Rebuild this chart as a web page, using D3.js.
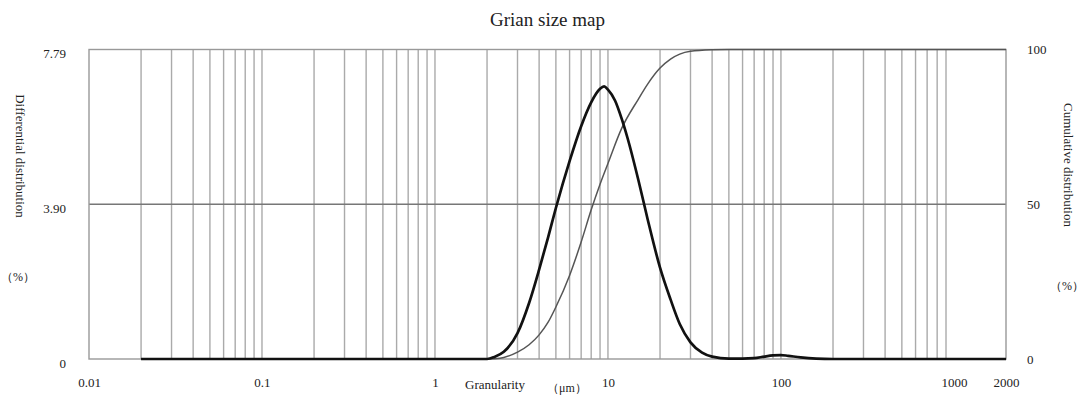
<!DOCTYPE html>
<html>
<head>
<meta charset="utf-8">
<script src="https://cdn.jsdelivr.net/npm/d3@7"></script>
<style>
  body { margin: 0; background: #fff; }
  text { font-family: "Liberation Serif", "DejaVu Serif", serif; fill: #222; }
</style>
</head>
<body>
<script>
// particle size (um) and readings
const sizes = [0.02, 0.5, 1, 2, 2.2, 2.5, 3, 3.5, 4, 4.5, 5, 6, 7, 8, 9, 9.5, 10, 11, 12, 13, 15, 17, 20, 23, 26, 30, 35, 40, 50, 60, 70, 80, 90, 100, 110, 130, 160, 200, 500, 2000]
const differential = [0, 0, 0, 0, 0.05, 0.18, 0.65, 1.41, 2.25, 3.05, 3.8, 4.98, 5.86, 6.46, 6.8, 6.86, 6.78, 6.5, 6.05, 5.55, 4.5, 3.5, 2.3, 1.5, 0.88, 0.42, 0.16, 0.06, 0.01, 0.01, 0.02, 0.06, 0.09, 0.1, 0.08, 0.04, 0.01, 0, 0, 0]

const cumSizes = [0.02, 2, 2.2, 2.5, 3, 3.5, 4, 4.5, 5, 6, 7, 8, 9, 10, 12, 15, 17, 20, 23, 26, 30, 40, 50, 2000]
const cumulative = [0, 0, 0.1, 0.5, 2.2, 4.6, 7.8, 11.8, 16.8, 27.0, 37.8, 48.2, 56.5, 63.2, 74.5, 84.0, 88.9, 94.0, 96.9, 98.5, 99.4, 99.9, 100, 100]

const xTicks = [0.01, 0.1, 1, 10, 100, 1000, 2000]
const leftTicks = [0, 3.90, 7.79]
const rightTicks = [0, 50, 100]
// vertical grid lines (no line drawn at 1000 in the original)
const gridX = []
for (let p = -2; p <= 2; p++) {
  for (let k = 1; k <= 9; k++) gridX.push(k * Math.pow(10, p))
}

const w = 1084
const h = 407
const pl = 89, pr = 1006, pt = 49.5, pb = 359

const xscale = d3.scaleLog().domain([0.01, 2000]).range([pl, pr])
const yleft = d3.scaleLinear().domain([0, 7.79]).range([pb, pt])
const yright = d3.scaleLinear().domain([0, 100]).range([pb, pt])

const svg = d3.select("body").append("svg")
  .attr("width", w)
  .attr("height", h)

// grid
svg.append("g").selectAll("line")
  .data(gridX.filter(v => v > 0.01))
  .enter().append("line")
  .attr("x1", d => xscale(d)).attr("x2", d => xscale(d))
  .attr("y1", pt).attr("y2", pb)
  .attr("stroke", "#aaa").attr("stroke-width", 1.4)

svg.append("line")
  .attr("x1", pl).attr("x2", pr)
  .attr("y1", yleft(3.895)).attr("y2", yleft(3.895))
  .attr("stroke", "#777").attr("stroke-width", 1.4)

svg.append("rect")
  .attr("x", pl).attr("y", pt)
  .attr("width", pr - pl).attr("height", pb - pt)
  .attr("fill", "none").attr("stroke", "#999").attr("stroke-width", 1.4)

// curves
const cumLine = d3.line()
  .x((d, i) => xscale(cumSizes[i]))
  .y(d => yright(d))
  .curve(d3.curveMonotoneX)

svg.append("path")
  .attr("d", cumLine(cumulative))
  .attr("fill", "none").attr("stroke", "#555").attr("stroke-width", 1.5)

const diffLine = d3.line()
  .x((d, i) => xscale(sizes[i]))
  .y(d => yleft(d))
  .curve(d3.curveMonotoneX)

svg.append("path")
  .attr("d", diffLine(differential))
  .attr("fill", "none").attr("stroke", "#111").attr("stroke-width", 2.7)

// axes labels
const xAxis = d3.axisBottom(xscale).tickValues(xTicks).tickSize(0).tickFormat(d3.format("~g"))
svg.append("g")
  .attr("transform", "translate(0," + pb + ")")
  .call(xAxis)
  .call(g => g.select(".domain").remove())
  .selectAll("text")
  .attr("dy", "1.95em")
  .style("font-size", "13px")
  .style("font-family", "Liberation Serif")

const yAxisL = d3.axisLeft(yleft).tickValues(leftTicks).tickSize(0)
svg.append("g")
  .attr("transform", "translate(" + (pl - 20) + ",4)")
  .call(yAxisL)
  .call(g => g.select(".domain").remove())
  .selectAll("text")
  .text((d, i) => ["0", "3.90", "7.79"][i])
  .style("font-size", "13px")
  .style("font-family", "Liberation Serif")

const yAxisR = d3.axisRight(yright).tickValues(rightTicks).tickSize(0)
svg.append("g")
  .attr("transform", "translate(" + (pr + 18) + ",0)")
  .call(yAxisR)
  .call(g => g.select(".domain").remove())
  .selectAll("text")
  .style("font-size", "13px")
  .style("font-family", "Liberation Serif")

svg.append("text")
  .attr("x", (pl + pr) / 2).attr("y", 26)
  .attr("text-anchor", "middle")
  .style("font-size", "19px")
  .text("Grian size map")

svg.append("text")
  .attr("transform", "translate(16,156) rotate(90)")
  .attr("text-anchor", "middle")
  .style("font-size", "13px")
  .text("Differential distribution")

svg.append("text")
  .attr("x", 18).attr("y", 281)
  .attr("text-anchor", "middle")
  .style("font-size", "12px")
  .text("（%）")

svg.append("text")
  .attr("transform", "translate(1064,165) rotate(90)")
  .attr("text-anchor", "middle")
  .style("font-size", "13px")
  .text("Cumulative distribution")

svg.append("text")
  .attr("x", 1067).attr("y", 290)
  .attr("text-anchor", "middle")
  .style("font-size", "12px")
  .text("（%）")

svg.append("text")
  .attr("x", 495).attr("y", 389)
  .attr("text-anchor", "middle")
  .style("font-size", "13px")
  .text("Granularity")

svg.append("text")
  .attr("x", 567).attr("y", 392)
  .attr("text-anchor", "middle")
  .style("font-size", "12px")
  .text("（μm）")
</script>
</body>
</html>
